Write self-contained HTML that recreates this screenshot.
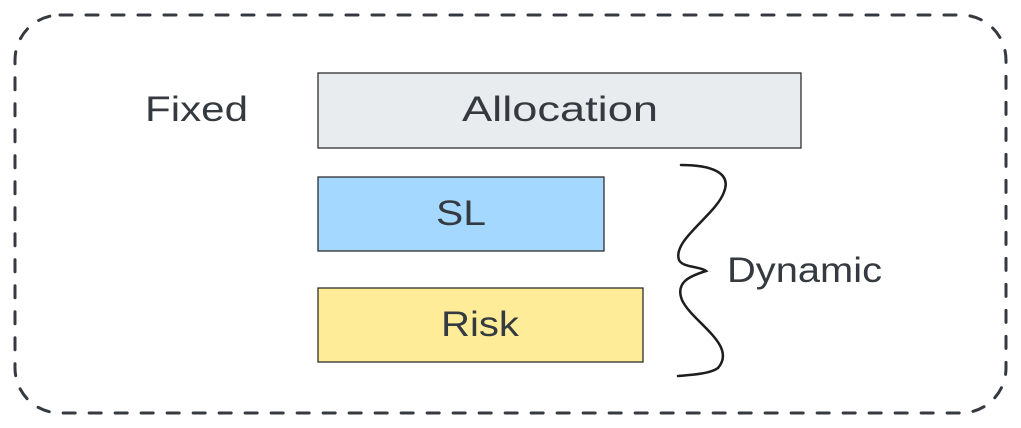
<!DOCTYPE html>
<html><head><meta charset="utf-8"><style>
html,body{margin:0;padding:0;background:#fff;}
svg{display:block;}
text{font-family:"Liberation Sans",sans-serif;fill:#343a40;}
</style></head><body>
<svg width="1021" height="428" viewBox="0 0 1021 428" xmlns="http://www.w3.org/2000/svg">
<rect x="15" y="15" width="991" height="398" rx="45" ry="45" fill="none" stroke="#343a40" stroke-width="3" stroke-dasharray="12 14" stroke-linecap="round"/>
<rect x="318" y="73" width="483" height="75" fill="#e9ecef" stroke="#1e1e1e" stroke-width="1.2"/>
<rect x="318" y="177" width="286" height="74" fill="#a5d8ff" stroke="#1e1e1e" stroke-width="1.2"/>
<rect x="318" y="288" width="325" height="74" fill="#ffec99" stroke="#1e1e1e" stroke-width="1.2"/>
<text x="145" y="121" font-size="35" textLength="103" lengthAdjust="spacingAndGlyphs">Fixed</text>
<text x="462" y="121" font-size="35" textLength="196" lengthAdjust="spacingAndGlyphs">Allocation</text>
<text x="436" y="225" font-size="35" textLength="50" lengthAdjust="spacingAndGlyphs">SL</text>
<text x="441" y="336" font-size="35" textLength="78" lengthAdjust="spacingAndGlyphs">Risk</text>
<text x="727" y="282" font-size="35" textLength="155" lengthAdjust="spacingAndGlyphs">Dynamic</text>
<path d="M681,165 C710,165 732,172 724,192 C716,215 672,240 679,260 C683,268 700,266 706,271 C690,276 675,282 682,300 C692,322 738,345 718,368 C710,374 690,375 678,376" fill="none" stroke="#1e1e1e" stroke-width="2.5" stroke-linecap="round"/>
</svg>
</body></html>
